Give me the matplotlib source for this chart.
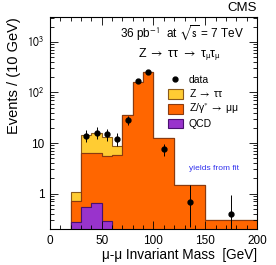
import matplotlib
matplotlib.use("Agg")
import matplotlib.pyplot as plt
import numpy as np
from matplotlib.patches import Patch
from matplotlib.lines import Line2D
from matplotlib.ticker import FixedLocator, FuncFormatter, LogLocator, MultipleLocator

plt.rcParams['font.family'] = ['Liberation Sans', 'DejaVu Sans']
plt.rcParams['mathtext.fontset'] = 'stixsans'

# bin edges (GeV) and stacked components, events / 10 GeV
edges = [0, 10, 20, 30, 40, 50, 60, 70, 80, 90, 100, 120, 150, 200]
qcd = [0, 0, 0.27, 0.55, 0.66, 0.29, 0, 0, 0, 0, 0, 0, 0]
zmumu = [0, 0, 0.44, 5.75, 5.6, 5.3, 5.8, 35, 160, 255, 12.4, 1.5, 0.30]
ztautau = [0, 0, 0.35, 8.2, 9.7, 7.3, 2.9, 0, 0, 0, 0, 0, 0]

# data points
data_x = [35, 45, 55, 65, 75, 85, 95, 110, 135, 175]
data_y = [14, 15.8, 14.8, 12, 28, 165, 252, 7.5, 0.67, 0.4]
err_lo = [3.7, 3.9, 3.8, 3.4, 5.3, 12.8, 15.9, 1.9, 0.45, 0.26]
err_hi = [4.3, 4.5, 4.4, 4.0, 5.8, 13.3, 16.4, 2.2, 0.83, 0.53]

c_tt = '#ffcc33'
c_mm = '#ff6600'
c_qcd = '#9933cc'

fig = plt.figure(figsize=(2.76, 2.65), dpi=100)
ax = fig.add_axes([0.181, 0.136, 0.750, 0.800])
ax.set_yscale('log')

lo = 1e-3
c1 = np.array(qcd)
c2 = c1 + np.array(zmumu)
c3 = c2 + np.array(ztautau)
ax.stairs(np.maximum(c3, lo), edges, baseline=np.maximum(c2, lo), fill=True,
          facecolor=c_tt, edgecolor='#8a5a1a', linewidth=0.8)
ax.stairs(np.maximum(c2, lo), edges, baseline=np.maximum(c1, lo), fill=True,
          facecolor=c_mm, edgecolor='#8a3a10', linewidth=0.8)
ax.stairs(np.maximum(c1, lo), edges, baseline=lo, fill=True,
          facecolor=c_qcd, edgecolor='#4a1070', linewidth=0.8)

ax.errorbar(data_x, data_y, yerr=[err_lo, err_hi], fmt='o', color='black',
            markersize=3.5, elinewidth=0.7, capsize=0, zorder=5)

ax.set_xlim(0, 200)
ax.set_ylim(0.2, 3100)
ax.xaxis.set_major_locator(MultipleLocator(50))
ax.xaxis.set_minor_locator(MultipleLocator(10))
ax.yaxis.set_major_locator(FixedLocator([1, 10, 100, 1000]))
ax.yaxis.set_minor_locator(LogLocator(base=10, subs=np.arange(2, 10)))
ax.yaxis.set_major_formatter(FuncFormatter(
    lambda v, p: {1: '1', 10: '10', 100: r'$10^2$', 1000: r'$10^3$'}.get(int(round(v)), '')))
ax.yaxis.set_minor_formatter(FuncFormatter(lambda v, p: ''))
ax.tick_params(which='both', direction='in', top=True, right=True, labelsize=8.5, width=0.6)
ax.tick_params(which='major', length=6, pad=4)
ax.tick_params(which='minor', length=3)
for s in ax.spines.values():
    s.set_linewidth(0.8)

ax.set_xlabel('μ-μ Invariant Mass  [GeV]', fontsize=9.8, loc='right', labelpad=1)
ax.set_ylabel('Events / (10 GeV)', fontsize=10.5, loc='top', labelpad=4)

fig.text(0.931, 0.968, 'CMS', ha='right', va='center', fontsize=9.5)
ax.text(0.64, 0.925, r'36 pb$^{-1}$  at $\sqrt{\mathrm{s}}$ = 7 TeV', transform=ax.transAxes,
        ha='center', va='center', fontsize=8.5)
ax.text(0.625, 0.82, r'Z $\rightarrow$ ττ $\rightarrow$ τ$_{\mathrm{\mu}}$τ$_{\mathrm{\mu}}$',
        transform=ax.transAxes, ha='center', va='center', fontsize=9)
ax.text(0.792, 0.283, 'yields from fit', transform=ax.transAxes, ha='center', va='center',
        fontsize=6, color='#3333ee')

handles = [
    Line2D([], [], marker='o', linestyle='none', color='black', markersize=3.5),
    Patch(facecolor=c_tt, edgecolor='#8a5a1a', linewidth=0.8),
    Patch(facecolor=c_mm, edgecolor='#8a3a10', linewidth=0.8),
    Patch(facecolor=c_qcd, edgecolor='#4a1070', linewidth=0.8),
]
labels = ['data', r'Z $\rightarrow$ ττ', r'Z/γ$^{*}$ $\rightarrow$ μμ', 'QCD']
ax.legend(handles, labels, loc='upper left', bbox_to_anchor=(0.55, 0.745), frameon=False,
          fontsize=7.5, handlelength=1.4, handleheight=1.0, handletextpad=0.6,
          labelspacing=0.2, borderaxespad=0)

fig.savefig('out.png', dpi=100)
